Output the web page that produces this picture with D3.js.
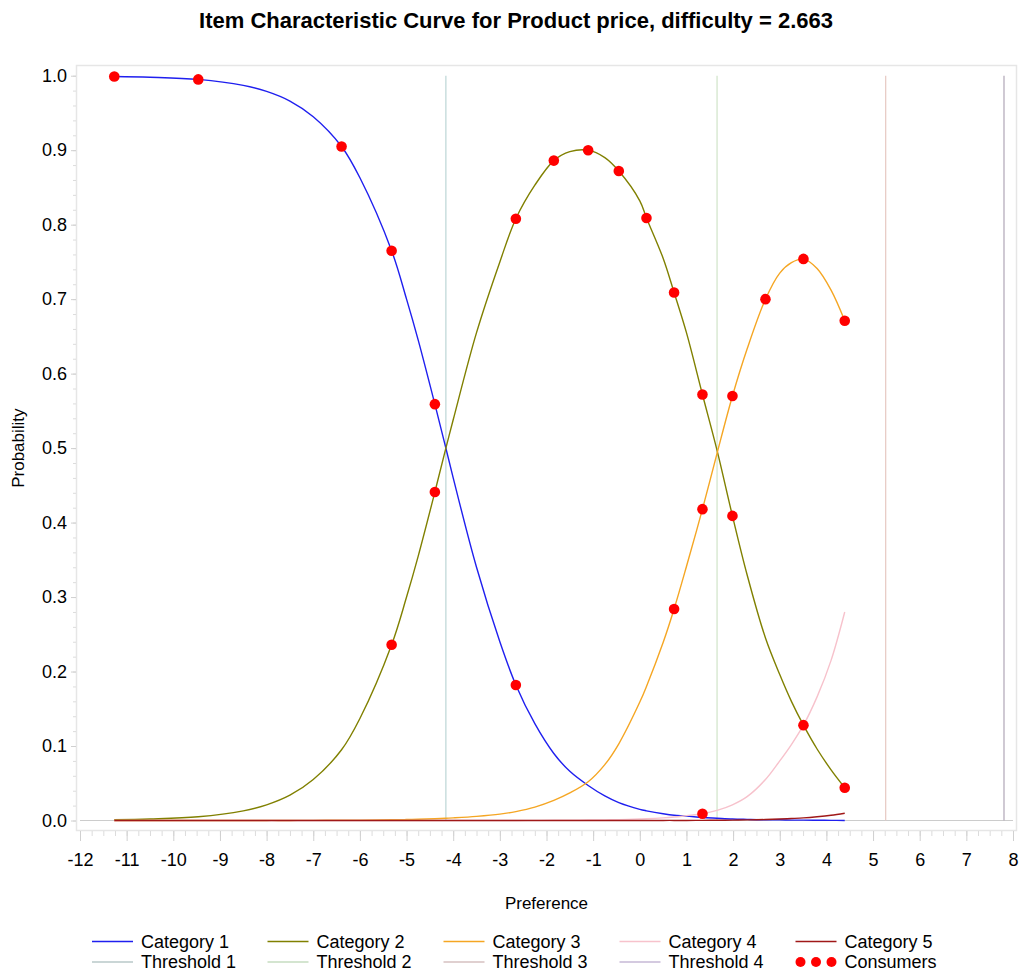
<!DOCTYPE html>
<html><head><meta charset="utf-8">
<script src="https://cdn.jsdelivr.net/npm/d3@7"></script>
<style>
html,body{margin:0;padding:0;background:#fff;}
text{font-family:"Liberation Sans",Arial,sans-serif;fill:#000;}
</style></head>
<body>
<svg id="chart" width="1030" height="972"></svg>
<script>
// ---- data ----
const preference = [-11.265, -10.5, -9.465, -8.5, -8, -7.5, -7, -6.393, -6, -5.32, -5, -4.75, -4.393, -4.157, -4, -3.5, -3, -2.657, -2.25, -1.843, -1.5, -1.107, -0.75, -0.45, 0, 0.143, 0.5, 0.735, 1, 1.343, 1.656, 1.986, 2.3, 2.694, 3, 3.25, 3.508, 3.8, 4.1, 4.393];
const category1 = [0.999, 0.998, 0.995, 0.987, 0.979, 0.966, 0.945, 0.905, 0.863, 0.765, 0.70, 0.645, 0.559, 0.50, 0.46, 0.34, 0.24, 0.182, 0.13, 0.09, 0.066, 0.047, 0.033, 0.024, 0.015, 0.013, 0.009, 0.007, 0.006, 0.004, 0.003, 0.002, 0.0015, 0.001, 0.001, 0.0005, 0.0005, 0.0003, 0.0002, 0.0001];
const category2 = [0.001, 0.002, 0.005, 0.013, 0.021, 0.034, 0.055, 0.095, 0.137, 0.236, 0.30, 0.355, 0.441, 0.50, 0.538, 0.655, 0.75, 0.808, 0.853, 0.886, 0.898, 0.900, 0.890, 0.872, 0.832, 0.809, 0.755, 0.709, 0.655, 0.572, 0.497, 0.409, 0.33, 0.245, 0.196, 0.160, 0.128, 0.096, 0.068, 0.044];
const category3 = [0, 0, 0, 0, 0.0001, 0.0001, 0.0002, 0.0003, 0.0005, 0.001, 0.0013, 0.0017, 0.0024, 0.003, 0.0035, 0.0055, 0.0085, 0.012, 0.018, 0.027, 0.037, 0.052, 0.075, 0.103, 0.159, 0.180, 0.239, 0.284, 0.341, 0.418, 0.493, 0.570, 0.633, 0.70, 0.735, 0.749, 0.754, 0.741, 0.712, 0.671];
const category4 = [0, 0, 0, 0, 0, 0, 0, 0, 0, 0, 0, 0, 0, 0, 0, 0, 0.0001, 0.0001, 0.0002, 0.0003, 0.0004, 0.0006, 0.0009, 0.0012, 0.002, 0.0023, 0.0035, 0.0047, 0.0065, 0.009, 0.0135, 0.021, 0.032, 0.055, 0.08, 0.102, 0.128, 0.166, 0.215, 0.28];
const category5 = [0, 0, 0, 0, 0, 0, 0, 0, 0, 0, 0, 0, 0, 0, 0, 0, 0, 0, 0, 0, 0, 0, 0, 0, 0, 0, 0.0001, 0.0001, 0.0001, 0.0002, 0.0003, 0.0005, 0.0008, 0.0013, 0.002, 0.0027, 0.0035, 0.005, 0.007, 0.0097];
const thresholds = [-4.157, 1.656, 5.271, 7.807];
const consumerX = [-11.265, -9.465, -6.393, -5.32, -5.32, -4.393, -4.393, -2.657, -2.657, -1.843, -1.107, -0.45, 0.143, 0.735, 0.735, 1.343, 1.343, 1.343, 1.986, 1.986, 2.694, 3.508, 3.508, 4.393, 4.393];
const consumerY = [0.999, 0.995, 0.905, 0.765, 0.236, 0.559, 0.441, 0.808, 0.182, 0.886, 0.900, 0.872, 0.809, 0.709, 0.284, 0.572, 0.418, 0.009, 0.570, 0.409, 0.700, 0.754, 0.128, 0.671, 0.044];
const xTicks = [-12, -11, -10, -9, -8, -7, -6, -5, -4, -3, -2, -1, 0, 1, 2, 3, 4, 5, 6, 7, 8];
const yTicks = [0, 0.1, 0.2, 0.3, 0.4, 0.5, 0.6, 0.7, 0.8, 0.9, 1.0];
const categoryNames = ["Category 1", "Category 2", "Category 3", "Category 4", "Category 5"];
const thresholdNames = ["Threshold 1", "Threshold 2", "Threshold 3", "Threshold 4"];
const titleText = "Item Characteristic Curve for Product price, difficulty = 2.663";

// ---- styles ----
const catColors = ["#1f1fef", "#808000", "#f5a623", "#f7c2cc", "#a01818"];
const thrColors = ["#bcd6d6", "#cfe3c8", "#e6c9c2", "#b0a6b6"];
const thrLegendColors = ["#b9c8c8", "#c6dcc0", "#d6c0c0", "#c6b8d6"];

const svg = d3.select("#chart");
const x = d3.scaleLinear().domain([-12, 8]).range([80, 1013]);
const y = d3.scaleLinear().domain([0, 1]).range([820.5, 75.7]);

// frame
svg.append("rect").attr("x", 76.5).attr("y", 65.5).attr("width", 940).attr("height", 765)
  .attr("fill", "none").attr("stroke", "#e6e6e6").attr("stroke-width", 1.5);

// title
svg.append("text").attr("x", 516).attr("y", 28).attr("text-anchor", "middle")
  .style("font-weight", "bold").style("font-size", "22px").text(titleText);

// x axis minor + major
const minorX = d3.range(-12, 8.001, 0.25);
svg.append("g").attr("transform", "translate(0,831)")
  .call(d3.axisBottom(x).tickValues(minorX).tickSize(5).tickFormat(""))
  .call(g => { g.select(".domain").remove(); g.selectAll("line").attr("stroke", "#dcdcdc"); });
svg.append("g").attr("transform", "translate(0,831)")
  .call(d3.axisBottom(x).tickValues(xTicks).tickSize(10).tickPadding(12).tickFormat(d => String(d)))
  .call(g => { g.select(".domain").remove(); g.selectAll("line").attr("stroke", "#d0d0d0");
    g.selectAll("text").style("font-size", "18px").style("font-family", "'Liberation Sans',Arial,sans-serif").attr("fill", "#000"); });

// y axis minor + major
const minorY = d3.range(0, 1.0001, 0.02);
svg.append("g").attr("transform", "translate(76,0)")
  .call(d3.axisLeft(y).tickValues(minorY).tickSize(3).tickFormat(""))
  .call(g => { g.select(".domain").remove(); g.selectAll("line").attr("stroke", "#dcdcdc"); });
svg.append("g").attr("transform", "translate(76,0)")
  .call(d3.axisLeft(y).tickValues(yTicks).tickSize(5).tickPadding(4).tickFormat(d3.format(".1f")))
  .call(g => { g.select(".domain").remove(); g.selectAll("line").attr("stroke", "#d0d0d0");
    g.selectAll("text").style("font-size", "18px").style("font-family", "'Liberation Sans',Arial,sans-serif").attr("fill", "#000"); });

// axis labels
svg.append("text").attr("x", x(-2)).attr("y", 909).attr("text-anchor", "middle")
  .style("font-size", "17px").text("Preference");
svg.append("text").attr("transform", `translate(24,${y(0.5)}) rotate(-90)`).attr("text-anchor", "middle")
  .style("font-size", "17px").text("Probability");

// zero reference line
svg.append("line").attr("x1", x(-12)).attr("x2", x(8)).attr("y1", y(0)).attr("y2", y(0))
  .attr("stroke", "#cccccc").attr("stroke-width", 1);

// threshold lines
thresholds.forEach((t, i) => {
  svg.append("line").attr("x1", x(t)).attr("x2", x(t)).attr("y1", y(0)).attr("y2", y(1))
    .attr("stroke", thrColors[i]).attr("stroke-width", 1.2);
});

// category curves
const cats = [category1, category2, category3, category4, category5];
const line = d3.line().x(d => x(d[0])).y(d => Math.min(y(d[1]), y(0))).curve(d3.curveCatmullRom.alpha(0.5));
cats.forEach((vals, i) => {
  svg.append("path").datum(preference.map((p, j) => [p, vals[j]]))
    .attr("d", line).attr("fill", "none").attr("stroke", catColors[i]).attr("stroke-width", 1.4);
});

// consumers
svg.append("g").selectAll("circle").data(consumerX.map((cx, i) => [cx, consumerY[i]])).join("circle")
  .attr("cx", d => x(d[0])).attr("cy", d => y(d[1])).attr("r", 5.3).attr("fill", "#ff0000");

// legend
const colX = [92, 267.5, 443.5, 619.5, 795.5];
const row1 = 941.5, row2 = 962;
categoryNames.forEach((n, i) => {
  svg.append("line").attr("x1", colX[i]).attr("x2", colX[i] + 41).attr("y1", row1).attr("y2", row1)
    .attr("stroke", catColors[i]).attr("stroke-width", 1.4);
  svg.append("text").attr("x", colX[i] + 49).attr("y", row1 + 6.3).style("font-size", "18px").text(n);
});
thresholdNames.forEach((n, i) => {
  svg.append("line").attr("x1", colX[i]).attr("x2", colX[i] + 41).attr("y1", row2).attr("y2", row2)
    .attr("stroke", thrLegendColors[i]).attr("stroke-width", 1.4);
  svg.append("text").attr("x", colX[i] + 49).attr("y", row2 + 6.3).style("font-size", "18px").text(n);
});
[0, 1, 2].forEach(k => {
  svg.append("circle").attr("cx", colX[4] + 5 + k * 15.5).attr("cy", row2).attr("r", 5).attr("fill", "#ff0000");
});
svg.append("text").attr("x", colX[4] + 49).attr("y", row2 + 6.3).style("font-size", "18px").text("Consumers");
</script>
</body></html>
